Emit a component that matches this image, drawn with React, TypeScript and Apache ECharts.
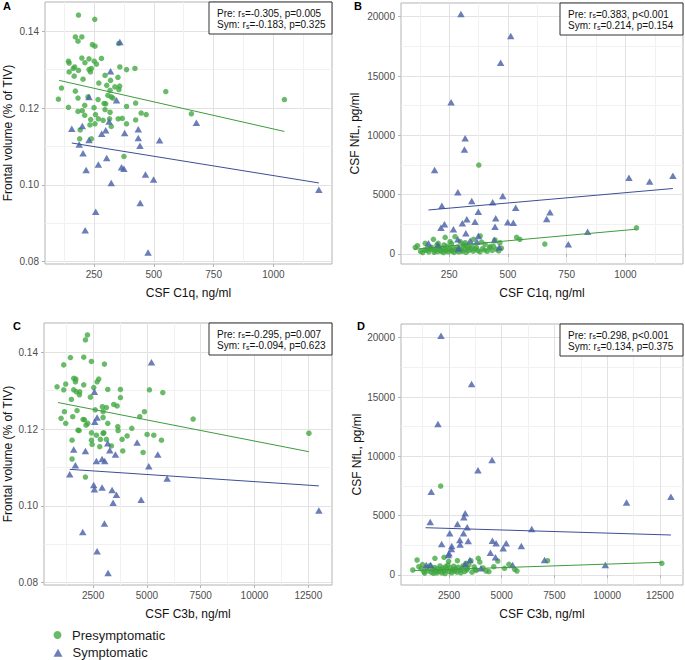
import React, { useEffect, useRef } from "react";
import * as echarts from "echarts";

type P = [number, number];

// ---------- Data ----------
// Panel A: CSF C1q (ng/ml) vs frontal volume (% of TIV)
const preA: P[] = [
  [185, 0.1442], [253, 0.1431], [172, 0.1385], [199, 0.1385], [183, 0.1374], [243, 0.1365], [254, 0.1361], [354, 0.1368],
  [143, 0.1322], [146, 0.1317], [199, 0.133], [229, 0.1328], [281, 0.1329], [212, 0.1318], [251, 0.1322], [169, 0.1307],
  [185, 0.1298], [146, 0.1294], [163, 0.1303], [229, 0.13], [235, 0.1294], [239, 0.1303], [260, 0.1314], [167, 0.1283],
  [204, 0.1275], [296, 0.1285], [319, 0.1272], [358, 0.1307], [386, 0.13], [421, 0.1303], [350, 0.128], [337, 0.1255],
  [357, 0.1257], [303, 0.1259], [317, 0.1246], [322, 0.1229], [308, 0.1233], [329, 0.1226], [354, 0.1248], [101, 0.1223],
  [114, 0.1252], [172, 0.1244], [183, 0.1226], [225, 0.1229], [267, 0.1222], [299, 0.1211], [211, 0.1207], [386, 0.1204],
  [424, 0.1213], [550, 0.1243], [143, 0.1202], [183, 0.1191], [201, 0.1193], [250, 0.1201], [296, 0.1196], [317, 0.1189],
  [211, 0.1181], [256, 0.1183], [236, 0.117], [268, 0.1172], [288, 0.1168], [315, 0.1172], [351, 0.1172], [368, 0.1173],
  [322, 0.1152], [386, 0.1159], [424, 0.1169], [447, 0.1187], [468, 0.1183], [657, 0.1185], [1046, 0.1222], [192, 0.1143],
  [233, 0.1156], [190, 0.112], [239, 0.112], [375, 0.1074], [254, 0.1159], [270, 0.1265], [292, 0.1212]
];
const symA: P[] = [
  [358, 0.1372], [229, 0.1229], [319, 0.1296], [344, 0.122], [313, 0.1165], [157, 0.1146], [201, 0.1153], [229, 0.1117],
  [282, 0.1133], [299, 0.1142], [378, 0.1135], [435, 0.1145], [435, 0.1122], [442, 0.1102], [524, 0.1116], [678, 0.1162],
  [188, 0.1105], [204, 0.1082], [217, 0.1039], [268, 0.1053], [303, 0.107], [365, 0.1046], [375, 0.1042], [322, 0.1005],
  [465, 0.1027], [499, 0.1014], [443, 0.0953], [257, 0.093], [213, 0.0882], [476, 0.0824], [1190, 0.0987]
];
const fitPreA: P[] = [[104, 0.1272], [1046, 0.1139]];
const fitSymA: P[] = [[157, 0.1109], [1190, 0.1005]];

// Panel B: CSF C1q (ng/ml) vs CSF NfL (pg/ml)
const preB: P[] = [
  [106, 560], [115, 700], [148, 900], [145, 340], [169, 480], [183, 1240], [198, 760], [233, 1400], [254, 1040], [275, 1460],
  [297, 1040], [311, 820], [332, 620], [353, 1240], [376, 7500], [382, 1520], [403, 820], [424, 620], [445, 1180], [466, 950],
  [537, 1400], [551, 1240], [657, 840], [1047, 2200], [128, 230], [137, 120], [152, 310], [158, 470], [163, 180], [171, 390],
  [176, 560], [186, 140], [189, 290], [194, 420], [201, 210], [207, 610], [212, 330], [216, 230], [221, 480], [226, 120],
  [232, 380], [236, 270], [241, 660], [246, 190], [251, 430], [257, 320], [262, 240], [266, 540], [271, 130], [277, 380],
  [282, 280], [287, 590], [291, 170], [296, 440], [302, 330], [306, 220], [312, 680], [318, 390], [322, 140], [327, 520],
  [333, 290], [342, 430], [347, 640], [352, 240], [361, 410], [366, 560], [372, 290], [381, 180], [392, 460], [401, 330],
  [412, 230], [421, 510], [433, 300], [438, 660], [452, 390], [461, 260], [472, 500], [203, 900], [260, 880], [318, 950],
  [388, 1010], [228, 760]
];
const symB: P[] = [
  [300, 20225], [512, 18370], [469, 16120], [258, 12780], [318, 9750], [315, 8800], [188, 7080], [287, 5200], [346, 4470],
  [219, 4075], [435, 4360], [478, 4890], [533, 3905], [374, 3570], [679, 3515], [665, 2950], [448, 3010], [499, 2670],
  [523, 2640], [445, 2300], [360, 2725], [325, 2925], [306, 2590], [230, 2500], [215, 2220], [268, 2080], [321, 1745],
  [374, 1518], [287, 1240], [368, 1040], [162, 900], [202, 760], [442, 1180], [463, 565], [757, 820], [339, 1120],
  [290, 480], [839, 1880], [1015, 6430], [1103, 6100], [1202, 6600]
];
const fitPreB: P[] = [[100, 400], [1047, 2090]];
const fitSymB: P[] = [[162, 3710], [1202, 5520]];

// Panel C: CSF C3b (ng/ml) vs frontal volume (% of TIV)
const preC: P[] = [
  [2237, 0.1445], [2144, 0.1432], [1446, 0.1386], [2066, 0.1387], [1136, 0.1367], [2423, 0.1376], [3027, 0.1369],
  [1601, 0.1332], [1679, 0.1323], [1229, 0.1317], [826, 0.131], [1136, 0.1302], [1601, 0.1302], [1725, 0.1297],
  [1865, 0.1289], [2066, 0.1315], [2763, 0.133], [2686, 0.1323], [2531, 0.1308], [3182, 0.1303], [3771, 0.1303],
  [3771, 0.1282], [2376, 0.1283], [1493, 0.1277], [1167, 0.1245], [1012, 0.1228], [1229, 0.1215], [1756, 0.1248],
  [1555, 0.1232], [2035, 0.1225], [2252, 0.1215], [2175, 0.121], [2934, 0.1258], [3120, 0.1256], [2965, 0.1245],
  [2965, 0.123], [3461, 0.1264], [3616, 0.126], [1803, 0.1197], [1524, 0.1171], [1524, 0.1122], [2423, 0.119],
  [2423, 0.1171], [2454, 0.116], [2655, 0.1184], [2841, 0.1173], [2965, 0.1189], [3120, 0.1173], [3352, 0.1156],
  [2810, 0.1154], [3647, 0.1206], [3663, 0.1196], [3848, 0.1173], [3879, 0.1143], [4081, 0.1182], [4298, 0.1202],
  [4670, 0.1232], [4887, 0.1245], [5119, 0.1302], [5739, 0.1295], [5010, 0.1186], [5320, 0.1184], [5677, 0.1171],
  [4825, 0.1139], [7149, 0.1226], [12527, 0.1189], [2144, 0.1075], [3182, 0.1215], [1700, 0.133], [1880, 0.1297],
  [2100, 0.1224], [1850, 0.1196], [2600, 0.125], [3000, 0.119]
];
const symC: P[] = [
  [5212, 0.1374], [2562, 0.1297], [2578, 0.1219], [2686, 0.123], [1601, 0.1147], [2144, 0.1143], [2655, 0.1117],
  [2918, 0.1122], [3042, 0.1117], [3182, 0.1163], [3275, 0.1145], [3539, 0.1134], [4546, 0.1165], [5506, 0.1134],
  [5088, 0.1103], [5940, 0.1071], [1679, 0.1106], [1415, 0.1082], [2531, 0.1054], [2562, 0.1043], [2918, 0.1048],
  [3383, 0.1041], [3585, 0.1029], [3430, 0.1008], [4732, 0.1016], [3027, 0.0954], [2020, 0.0932], [2686, 0.0882],
  [3197, 0.0825], [12991, 0.0988]
];
const fitPreC: P[] = [[873, 0.1269], [12527, 0.1141]];
const fitSymC: P[] = [[1415, 0.1095], [12991, 0.1052]];

// Panel D: CSF C3b (ng/ml) vs CSF NfL (pg/ml)
const preD: P[] = [
  [2103, 7500], [983, 1264], [778, 421], [1065, 702], [1304, 281], [1830, 1404], [2261, 1488], [2342, 702], [2897, 1208],
  [3538, 1208], [3887, 1404], [3378, 562], [3744, 477], [4256, 337], [4621, 702], [4813, 1180], [5132, 562], [5340, 900],
  [5722, 337], [5612, 477], [7175, 1208], [12596, 983], [1180, 520], [1340, 160], [1430, 610], [1510, 340], [1590, 790],
  [1660, 230], [1720, 480], [1770, 140], [1810, 640], [1860, 390], [1920, 190], [1960, 530], [2020, 290], [2070, 760],
  [2110, 440], [2160, 180], [2210, 590], [2270, 330], [2310, 120], [2390, 480], [2440, 860], [2510, 280], [2560, 610],
  [2620, 190], [2660, 440], [2720, 740], [2760, 330], [2810, 540], [2870, 240], [2930, 660], [3010, 380], [3060, 190],
  [3110, 560], [3160, 760], [3240, 290], [3340, 430], [3440, 880], [3590, 240], [3690, 690], [3790, 390], [3960, 1090],
  [4110, 590], [4390, 290], [1240, 880], [2480, 1150], [3300, 980]
];
const symD: P[] = [
  [2117, 20170], [3569, 16100], [1974, 12725], [4541, 9690], [3872, 8820], [1655, 7020], [1607, 4470], [3266, 5200],
  [3202, 4860], [2899, 4300], [3361, 4020], [6423, 3880], [2532, 3510], [3186, 3510], [3010, 2950], [3409, 2865],
  [4557, 2890], [4732, 2670], [2149, 2610], [2628, 2440], [5211, 2670], [5068, 2250], [2612, 2190], [2500, 1830],
  [3026, 2580], [5929, 2440], [4462, 1880], [4701, 1490], [3489, 1260], [7030, 1260], [9916, 840], [10921, 6100],
  [13026, 6600], [1416, 840], [1624, 840], [2466, 1690], [3266, 930], [4015, 560], [5514, 840]
];
const fitPreD: P[] = [[826, 375], [12596, 1070]];
const fitSymD: P[] = [[1385, 3985], [13026, 3370]];

// Statistics text
const panelLetters = ["A", "B", "C", "D"];
const rsPre = ["-0.305", "0.383", "-0.295", "0.298"];
const pPre = ["p=0.005", "p<0.001", "p=0.007", "p<0.001"];
const rsSym = ["-0.183", "0.214", "-0.094", "0.134"];
const pSym = ["p=0.325", "p=0.154", "p=0.623", "p=0.375"];

// Axes
const xTitles = ["CSF C1q, ng/ml", "CSF C1q, ng/ml", "CSF C3b, ng/ml", "CSF C3b, ng/ml"];
const yTitles = ["Frontal volume (% of TIV)", "CSF NfL, pg/ml", "Frontal volume (% of TIV)", "CSF NfL, pg/ml"];
const c1qRange = [45, 1245];
const c3bRange = [220, 13600];
const frontalRange = [0.0794, 0.1476];
const nflRange = [-843, 21155];
const c1qTicks = [250, 500, 750, 1000];
const c1qMinor = [125, 375, 625, 875, 1125];
const c3bTicks = [2500, 5000, 7500, 10000, 12500];
const c3bMinor = [1250, 3750, 6250, 8750, 11250];
const frontalTicks = [0.08, 0.1, 0.12, 0.14];
const frontalMinor = [0.09, 0.11, 0.13];
const nflTicks = [0, 5000, 10000, 15000, 20000];
const nflMinor = [2500, 7500, 12500, 17500];
const legendNames = ["Presymptomatic", "Symptomatic"];
const legendIcons = ["circle", "triangle"];

// ---------- Styling / layout ----------
const FONT = "'Liberation Sans', Arial, Helvetica, sans-serif";
const GREEN = "#3FA63F";
const BLUE = "#4A62A8";
const GREEN_LINE = "#3E9B3E";
const BLUE_LINE = "#3B4F95";
const layout = [
  { left: 45, top: 2, width: 287, height: 262 },
  { left: 401, top: 3, width: 282, height: 261 },
  { left: 44, top: 323, width: 288, height: 262 },
  { left: 401, top: 324, width: 282, height: 261 },
];
const yTitleX = [8, 355, 8, 357];
const letterPos = [[7, 6], [358, 6], [17, 326], [361, 326]];
const legendTops = [628, 645.7];

const panels = [
  { pre: preA, sym: symA, fitPre: fitPreA, fitSym: fitSymA, xr: c1qRange, xt: c1qTicks, xm: c1qMinor, yr: frontalRange, yt: frontalTicks, ym: frontalMinor, fmt: (v: number) => v.toFixed(2) },
  { pre: preB, sym: symB, fitPre: fitPreB, fitSym: fitSymB, xr: c1qRange, xt: c1qTicks, xm: c1qMinor, yr: nflRange, yt: nflTicks, ym: nflMinor, fmt: (v: number) => String(v) },
  { pre: preC, sym: symC, fitPre: fitPreC, fitSym: fitSymC, xr: c3bRange, xt: c3bTicks, xm: c3bMinor, yr: frontalRange, yt: frontalTicks, ym: frontalMinor, fmt: (v: number) => v.toFixed(2) },
  { pre: preD, sym: symD, fitPre: fitPreD, fitSym: fitSymD, xr: c3bRange, xt: c3bTicks, xm: c3bMinor, yr: nflRange, yt: nflTicks, ym: nflMinor, fmt: (v: number) => String(v) },
];

function buildOption() {
  const grid: any[] = [];
  const xAxis: any[] = [];
  const yAxis: any[] = [];
  const series: any[] = [];
  const graphic: any[] = [];

  panels.forEach((p, i) => {
    const L = layout[i];
    grid.push({ ...L, show: true, borderColor: "#B3B3B3", borderWidth: 1, backgroundColor: "#ffffff", containLabel: false });

    const labelStyle = { fontSize: 10, color: "#4D4D4D", fontFamily: FONT };
    xAxis.push({
      type: "value", gridIndex: i, min: p.xr[0], max: p.xr[1], position: "bottom",
      axisLine: { show: false },
      axisTick: { show: true, length: 3, customValues: p.xt, lineStyle: { color: "#B3B3B3" } },
      axisLabel: { ...labelStyle, customValues: p.xt, margin: 5, formatter: (v: number) => String(v) },
      splitLine: { show: true, lineStyle: { color: "#E2E2E2", width: 1 } },
    });
    xAxis.push({
      type: "value", gridIndex: i, min: p.xr[0], max: p.xr[1], position: "top",
      axisLine: { show: false },
      axisTick: { show: false, customValues: p.xm },
      axisLabel: { show: false, customValues: p.xm },
      splitLine: { show: true, lineStyle: { color: "#F1F1F1", width: 1 } },
    });
    yAxis.push({
      type: "value", gridIndex: i, min: p.yr[0], max: p.yr[1], position: "left",
      axisLine: { show: false },
      axisTick: { show: true, length: 3, customValues: p.yt, lineStyle: { color: "#B3B3B3" } },
      axisLabel: { ...labelStyle, customValues: p.yt, margin: 6, formatter: p.fmt },
      splitLine: { show: true, lineStyle: { color: "#E2E2E2", width: 1 } },
    });
    yAxis.push({
      type: "value", gridIndex: i, min: p.yr[0], max: p.yr[1], position: "right",
      axisLine: { show: false },
      axisTick: { show: false, customValues: p.ym },
      axisLabel: { show: false, customValues: p.ym },
      splitLine: { show: true, lineStyle: { color: "#F1F1F1", width: 1 } },
    });

    const xi = 2 * i;
    const yi = 2 * i;
    series.push({
      name: legendNames[0], type: "scatter", xAxisIndex: xi, yAxisIndex: yi, data: p.pre,
      symbol: "circle", symbolSize: 5.5, itemStyle: { color: GREEN, opacity: 0.78 }, z: 2, silent: true,
    });
    series.push({
      name: legendNames[1], type: "scatter", xAxisIndex: xi, yAxisIndex: yi, data: p.sym,
      symbol: "triangle", symbolSize: [7.5, 6.5], itemStyle: { color: BLUE, opacity: 0.82 }, z: 2, silent: true,
    });
    series.push({
      name: "Presymptomatic fit", type: "line", xAxisIndex: xi, yAxisIndex: yi, data: p.fitPre,
      symbol: "none", lineStyle: { color: GREEN_LINE, width: 1 }, z: 3, silent: true,
    });
    series.push({
      name: "Symptomatic fit", type: "line", xAxisIndex: xi, yAxisIndex: yi, data: p.fitSym,
      symbol: "none", lineStyle: { color: BLUE_LINE, width: 1 }, z: 3, silent: true,
    });

    // axis titles
    graphic.push({
      type: "text", x: L.left + L.width / 2, y: L.top + L.height + 29, z: 10,
      style: { text: xTitles[i], fontSize: 12, fontFamily: FONT, fill: "#111", align: "center", verticalAlign: "middle", textAlign: "center", textVerticalAlign: "middle" },
    });
    graphic.push({
      type: "text", x: yTitleX[i], y: L.top + L.height / 2, rotation: Math.PI / 2, z: 10,
      style: { text: yTitles[i], fontSize: 12, fontFamily: FONT, fill: "#111", align: "center", verticalAlign: "middle", textAlign: "center", textVerticalAlign: "middle" },
    });
    // panel letter
    graphic.push({
      type: "text", x: letterPos[i][0], y: letterPos[i][1], z: 10,
      style: { text: panelLetters[i], fontSize: 11, fontWeight: "bold", fontFamily: FONT, fill: "#000", align: "center", verticalAlign: "middle", textAlign: "center", textVerticalAlign: "middle" },
    });
    // statistics box
    const bw = 123, bh = 32;
    const bx = L.left + L.width - bw;
    const by = L.top;
    graphic.push({
      type: "rect", shape: { x: bx, y: by, width: bw, height: bh }, z: 20,
      style: { fill: "#ffffff", stroke: "#333333", lineWidth: 1 },
    });
    const rich = { s: { fontSize: 7, fontFamily: FONT, fill: "#111", verticalAlign: "bottom" } };
    graphic.push({
      type: "text", x: bx + 8, y: by + 11, z: 21,
      style: { text: `Pre: r{s|s}=${rsPre[i]}, ${pPre[i]}`, rich, fontSize: 10, fontFamily: FONT, fill: "#111", align: "left", verticalAlign: "middle", textAlign: "left", textVerticalAlign: "middle" },
    });
    graphic.push({
      type: "text", x: bx + 8, y: by + 22.5, z: 21,
      style: { text: `Sym: r{s|s}=${rsSym[i]}, ${pSym[i]}`, rich, fontSize: 10, fontFamily: FONT, fill: "#111", align: "left", verticalAlign: "middle", textAlign: "left", textVerticalAlign: "middle" },
    });
  });

  const legend = legendNames.map((name, k) => ({
    data: [{ name, icon: legendIcons[k] }],
    orient: "horizontal", left: 53.5, top: legendTops[k], padding: 0, itemWidth: 9, itemHeight: 8,
    selectedMode: false,
    textStyle: { fontSize: 13, color: "#1a1a1a", fontFamily: FONT, lineHeight: 14, padding: [0, 0, 0, 5] },
  }));

  return {
    animation: false,
    backgroundColor: "#ffffff",
    textStyle: { fontFamily: FONT },
    grid, xAxis, yAxis, series, graphic, legend,
  };
}

export default function App() {
  const ref = useRef<HTMLDivElement>(null);
  useEffect(() => {
    if (!ref.current) return;
    const chart = echarts.init(ref.current, undefined, { renderer: "svg" });
    chart.setOption(buildOption() as any);
    return () => chart.dispose();
  }, []);
  return <div ref={ref} style={{ position: "absolute", left: 0, top: 0, width: 685, height: 660 }} />;
}
